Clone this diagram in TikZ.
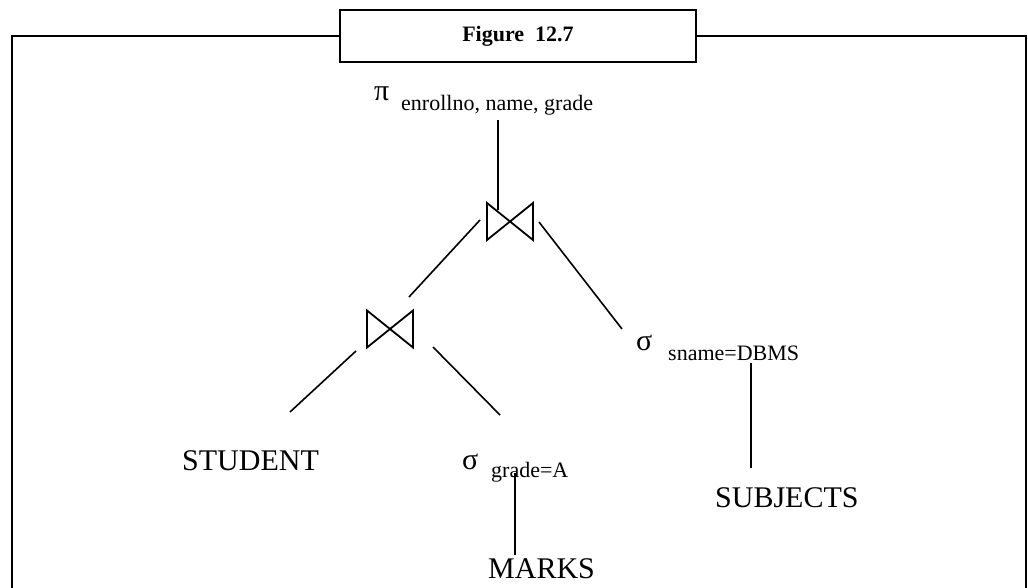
\documentclass[tikz,border=0pt]{standalone}
\usepackage{fontspec}
\setmainfont{Liberation Serif}
\usetikzlibrary{calc}
\tikzset{
  frameline/.style={line width=2.6pt, line cap=rect},
  titlebox/.style={draw, line width=2.6pt, minimum width=356pt, minimum height=52pt, inner sep=0pt, font=\fontsize{22}{26}\selectfont\bfseries},
  big/.style={inner sep=0pt, anchor=base west, font=\fontsize{30}{34}\selectfont},
  sub/.style={inner sep=0pt, anchor=base west, font=\fontsize{22}{26}\selectfont},
  edge/.style={line width=1.6pt},
  bowtiepic/.pic={\draw[line width=1.8pt, line join=miter] (-23,-18.5) -- (-23,18.5) -- (23,-18.5) -- (23,18.5) -- cycle;}
}
\begin{document}
\begin{tikzpicture}[x=1pt,y=-1pt]
\useasboundingbox (0,0) rectangle (1028,588);
% frame
\node[titlebox] (title) at (518,36) {Figure\ \ 12.7};
\draw[frameline] (title.west) -- (12,36) -- (12,590);
\draw[frameline] (title.east) -- (1026,36) -- (1026,590);
% labels
\node[big] (pi) at (374,101) {π};
\node[sub] (pisub) at (401,111) {enrollno, name, grade};
\node[big] (sig1) at (636,350) {σ};
\node[sub] (sig1sub) at (668,360) {sname=DBMS};
\node[big] (sig2) at (462,469) {σ};
\node[sub] (sig2sub) at (491,477) {grade=A};
\node[big] (student) at (182,470) {STUDENT};
\node[big] (subjects) at (715,507) {SUBJECTS};
\node[big] (marks) at (488,578) {MARKS};
% joins
\coordinate (j1) at (510,221.5);
\coordinate (j2) at (390,329);
\pic at (j1) {bowtiepic};
\pic at (j2) {bowtiepic};
% connector end points
\coordinate (a1) at (498,120);
\coordinate (a2) at (498,210);
\coordinate (b1) at (480,220);
\coordinate (b2) at (409,297);
\coordinate (c1) at (539,222);
\coordinate (c2) at (622,329);
\coordinate (d1) at (356,351);
\coordinate (d2) at (290,412);
\coordinate (e1) at (433,347);
\coordinate (e2) at (500,415);
\coordinate (f1) at (751,363);
\coordinate (f2) at (751,468);
\coordinate (g1) at (515,473);
\coordinate (g2) at (515,555);
\draw[edge] (a1) -- (a2);
\draw[edge] (b1) -- (b2);
\draw[edge] (c1) -- (c2);
\draw[edge] (d1) -- (d2);
\draw[edge] (e1) -- (e2);
\draw[edge] (f1) -- (f2);
\draw[edge] (g1) -- (g2);
\end{tikzpicture}
\end{document}
